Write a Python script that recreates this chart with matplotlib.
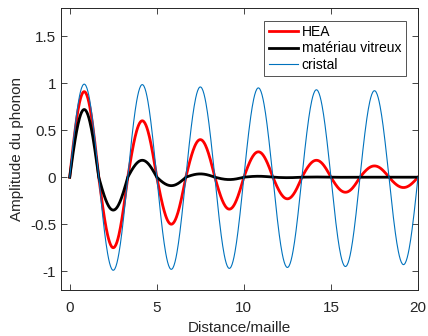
import numpy as np
import matplotlib
matplotlib.use("Agg")
import matplotlib.pyplot as plt

plt.rcParams['font.family'] = ['Liberation Sans', 'DejaVu Sans']
plt.rcParams['axes.unicode_minus'] = False

# Data: signed extremum of each half-cycle (lobe)
period = 20 / 6            # distance between successive peaks (mailles)
labels = ["HEA", "matériau vitreux", "cristal"]
hea_extrema = [0.91, -0.75, 0.60, -0.50, 0.40, -0.34, 0.27, -0.23, 0.18, -0.16, 0.12, -0.11]
vitreux_extrema = [0.72, -0.35, 0.18, -0.09, 0.035, -0.025, 0.01, -0.005, 0.002, -0.001, 0.0, 0.0]
cristal_extrema = [0.99, -0.99, 0.985, -0.98, 0.96, -0.97, 0.95, -0.96, 0.93, -0.95, 0.92, -0.93]
xticks = [0, 5, 10, 15, 20]
yticks = [-1, -0.5, 0, 0.5, 1, 1.5]
yticklabels = ["-1", "-0.5", "0", "0.5", "1", "1.5"]

colors = ["#ff0000", "#000000", "#0072bd"]
widths = [2.0, 2.0, 0.8]


def lobes(extrema):
    """Draw each half-cycle as a sine-shaped lobe reaching its read extremum."""
    half = period / 2
    xs, ys = [], []
    t = np.linspace(0, 1, 60)
    for i, a in enumerate(extrema):
        xs.append(i * half + t * half)
        ys.append(abs(a) * np.sign(a) * np.sin(np.pi * t))
    return np.concatenate(xs), np.concatenate(ys)


fig = plt.figure(figsize=(4.28, 3.36), dpi=100)
ax = fig.add_axes([61 / 428, 1 - 290 / 336, (418 - 61) / 428, (290 - 8) / 336])

for series, lab, c, lw in zip([hea_extrema, vitreux_extrema, cristal_extrema], labels, colors, widths):
    x, y = lobes(series)
    ax.plot(x, y, color=c, lw=lw, label=lab)

ax.set_xlim(-0.5, 20)
ax.set_ylim(-1.2, 1.8)
ax.set_xticks(xticks)
ax.set_xticklabels([str(v) for v in xticks])
ax.set_yticks(yticks)
ax.set_yticklabels(yticklabels)
ax.tick_params(direction='in', top=True, right=True, length=4, width=0.6,
               colors='#262626', labelsize=11, labelcolor='#262626')
ax.tick_params(axis='x', pad=8)
for s in ax.spines.values():
    s.set_color('#262626')
    s.set_linewidth(0.7)

ax.set_xlabel("Distance/maille", fontsize=11, color='#262626', labelpad=4)
ax.set_ylabel("Amplitude du phonon", fontsize=11, color='#262626', labelpad=4)

leg = ax.legend(loc='upper right', fontsize=10, frameon=True, fancybox=False,
                edgecolor='#262626', handlelength=2.1, handletextpad=0.3,
                borderpad=0.3, labelspacing=0.2, borderaxespad=0.9)
leg.get_frame().set_linewidth(0.7)

fig.savefig("out.png", dpi=100)
